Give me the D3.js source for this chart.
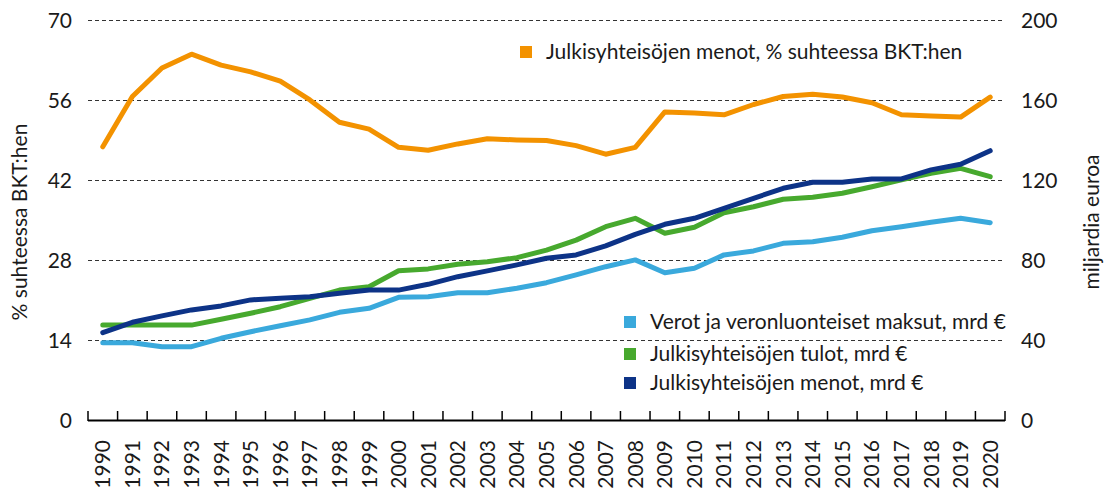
<!DOCTYPE html>
<html><head><meta charset="utf-8">
<script src="https://cdn.jsdelivr.net/npm/d3@7"></script>
<style>body{margin:0;background:#fff}svg{display:block}text{font-family:Lato,"Open Sans",sans-serif;fill:#1a1a1a}</style>
</head><body><svg id="c" width="1105" height="488"></svg>
<script>
const years = d3.range(1990, 2021).map(String);
const menotPct = [47.9,56.7,61.7,64.1,62.2,61.0,59.4,56.1,52.2,51.0,47.8,47.3,48.4,49.3,49.1,49.0,48.1,46.6,47.8,54.0,53.8,53.5,55.3,56.7,57.1,56.6,55.6,53.5,53.3,53.1,56.6];
const verot = [38.9,38.9,36.9,36.9,41.1,44.4,47.4,50.3,54.1,56.1,61.6,61.9,63.9,63.9,66.1,68.9,72.8,76.9,80.3,73.9,76.1,82.8,84.8,88.6,89.4,91.6,94.9,96.9,99.1,101.1,98.9];
const tulot = [47.7,47.7,47.7,47.7,50.6,53.6,56.9,61.1,65.2,66.9,74.9,75.8,78.1,79.4,81.4,85.2,90.2,96.9,101.1,93.6,96.6,103.9,106.9,110.6,111.6,113.6,116.9,120.3,123.6,126.1,121.9];
const menot = [43.9,49.1,52.3,55.3,57.3,60.3,61.1,61.9,63.6,65.2,65.2,68.1,71.9,74.8,77.8,81.1,82.8,87.3,93.1,98.1,101.1,106.1,111.1,116.1,119.1,119.1,120.8,120.8,125.3,128.1,134.9];
const leftTicks = [0,14,28,42,56,70];
const rightTicks = [0,40,80,120,160,200];
const seriesNames = ["Julkisyhteisöjen menot, % suhteessa BKT:hen","Verot ja veronluonteiset maksut, mrd €","Julkisyhteisöjen tulot, mrd €","Julkisyhteisöjen menot, mrd €"];
const colors = ["#f39200","#3aa9dc","#47a92e","#0d3387"];

const svg = d3.select("#c");
const x = d3.scaleBand().domain(years).range([88,1005]);
const yL = d3.scaleLinear().domain([0,70]).range([420.5,20.5]);
const yR = d3.scaleLinear().domain([0,200]).range([420.5,20.5]);
const fs = 21;

// gridlines
svg.append("g").selectAll("line").data(leftTicks.filter(d=>d>0)).join("line")
  .attr("x1",88).attr("x2",1005).attr("y1",d=>yL(d)).attr("y2",d=>yL(d))
  .attr("stroke","#333").attr("stroke-width",1).attr("stroke-dasharray","4,3");

// left tick labels
svg.append("g").selectAll("text").data(leftTicks).join("text")
  .attr("x",72).attr("y",d=>yL(d)).attr("dy","0.35em").attr("text-anchor","end")
  .attr("font-size",fs).text(d=>d);
// right tick labels
svg.append("g").selectAll("text").data(rightTicks).join("text")
  .attr("x",1021).attr("y",d=>yR(d)).attr("dy","0.35em").attr("text-anchor","start")
  .attr("font-size",fs).text(d=>d);

// axis titles
svg.append("text").attr("transform","translate(27,222) rotate(-90)").attr("text-anchor","middle")
  .attr("font-size",fs).text("% suhteessa BKT:hen");
svg.append("text").attr("transform","translate(1099,222) rotate(-90)").attr("text-anchor","middle")
  .attr("font-size",fs).text("miljardia euroa");

// x axis
const xa = svg.append("g");
xa.append("line").attr("x1",88).attr("x2",1005).attr("y1",420.5).attr("y2",420.5).attr("stroke","#000").attr("stroke-width",2);
const bounds = years.map(y=>x(y)).concat([x.range()[1]]);
xa.selectAll("line.t").data(bounds).join("line").attr("class","t")
  .attr("x1",d=>d).attr("x2",d=>d).attr("y1",421).attr("y2",411).attr("stroke","#000").attr("stroke-width",1.5);
xa.selectAll("text").data(years).join("text")
  .attr("transform",d=>`translate(${x(d)+x.bandwidth()/2+7.5},440) rotate(-90)`)
  .attr("text-anchor","end").attr("font-size",fs).text(d=>d);

// lines
const cx = d=>x(d)+x.bandwidth()/2;
const mk = (scale)=>d3.line().x((d,i)=>cx(years[i])).y(d=>scale(d));
const data = [[menotPct,yL],[verot,yR],[tulot,yR],[menot,yR]];
[1,2,3,0].forEach(k=>{
  svg.append("path").datum(data[k][0]).attr("d",mk(data[k][1]))
    .attr("fill","none").attr("stroke",colors[k]).attr("stroke-width",5)
    .attr("stroke-linejoin","round").attr("stroke-linecap","round");
});

// legends
const leg = [[0,520,52],[1,624,322],[2,624,354],[3,624,383]];
leg.forEach(([k,lx,ly])=>{
  svg.append("rect").attr("x",lx).attr("y",ly-6).attr("width",12).attr("height",12).attr("fill",colors[k]);
  svg.append("text").attr("x",lx+26).attr("y",ly).attr("dy","0.35em").attr("font-size",fs).text(seriesNames[k]);
});
</script></body></html>
